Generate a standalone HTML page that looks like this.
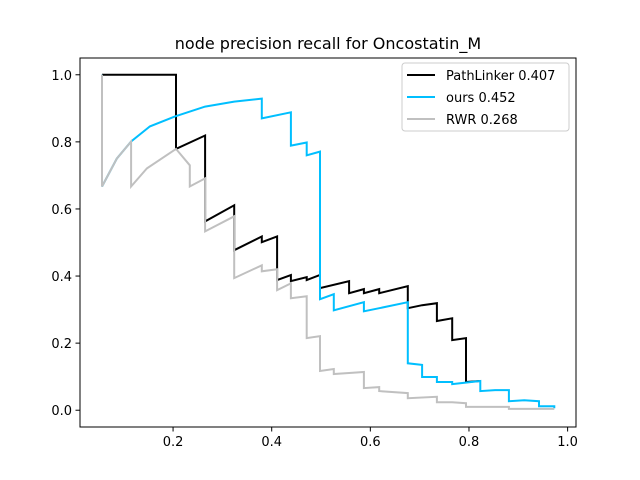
<!DOCTYPE html>
<html><head><meta charset="utf-8"><style>
body{margin:0;background:#fff}
svg{display:block;font-family:"DejaVu Sans","Liberation Sans",sans-serif}
</style></head><body>
<svg id="chart" width="640" height="480">
<rect width="640" height="480" fill="#fff"/>
<text x="328" y="49" text-anchor="middle" font-size="16">node precision recall for Oncostatin_M</text>
<g id="plot"></g>
<rect x="80" y="58" width="496" height="369" fill="none" stroke="#000" stroke-width="1"/>
<g id="ticks"></g>
<g>
<rect x="402" y="63" width="167" height="68" rx="3" fill="#fff" fill-opacity="0.8" stroke="#ccc"/>
<line x1="407" y1="75" x2="435" y2="75" stroke="#000" stroke-width="2"/>
<text x="446" y="80" font-size="13">PathLinker 0.407</text>
<line x1="407" y1="97" x2="435" y2="97" stroke="#00bfff" stroke-width="2"/>
<text x="446" y="102" font-size="13">ours 0.452</text>
<line x1="407" y1="119" x2="435" y2="119" stroke="#c0c0c0" stroke-width="2"/>
<text x="446" y="124" font-size="13">RWR 0.268</text>
</g>
</svg>
<script>
const xTicks=[0.2,0.4,0.6,0.8,1.0];
const yTicks=[0.0,0.2,0.4,0.6,0.8,1.0];
const pathlinkerRecall=[0.056,0.206,0.206,0.265,0.265,0.324,0.324,0.380,0.380,0.411,0.411,0.439,0.439,0.471,0.471,0.498,0.498,0.557,0.557,0.587,0.587,0.618,0.618,0.676,0.676,0.705,0.735,0.735,0.766,0.766,0.794,0.794,0.823];
const pathlinkerPrecision=[1.0,1.0,0.779,0.819,0.563,0.611,0.477,0.518,0.501,0.518,0.388,0.403,0.385,0.397,0.388,0.403,0.364,0.385,0.349,0.361,0.349,0.361,0.349,0.370,0.304,0.313,0.319,0.266,0.274,0.209,0.215,0.084,0.087];
const oursRecall=[0.056,0.056,0.086,0.115,0.153,0.204,0.265,0.324,0.380,0.380,0.439,0.439,0.471,0.471,0.498,0.498,0.526,0.526,0.587,0.587,0.618,0.676,0.676,0.705,0.705,0.735,0.735,0.766,0.766,0.823,0.823,0.853,0.881,0.881,0.912,0.942,0.942,0.973,0.973];
const oursPrecision=[1.0,0.667,0.750,0.801,0.846,0.876,0.905,0.920,0.929,0.870,0.888,0.789,0.798,0.760,0.771,0.331,0.346,0.298,0.322,0.295,0.304,0.322,0.140,0.135,0.099,0.099,0.084,0.084,0.078,0.087,0.057,0.060,0.060,0.027,0.030,0.027,0.012,0.012,0.006];
const rwrRecall=[0.056,0.056,0.086,0.115,0.115,0.147,0.206,0.234,0.234,0.265,0.265,0.324,0.324,0.380,0.380,0.411,0.411,0.439,0.439,0.471,0.471,0.498,0.498,0.526,0.526,0.557,0.587,0.587,0.618,0.618,0.676,0.676,0.735,0.735,0.766,0.794,0.794,0.881,0.881,0.973];
const rwrPrecision=[1.0,0.667,0.750,0.801,0.667,0.721,0.779,0.730,0.667,0.691,0.533,0.578,0.394,0.432,0.414,0.420,0.358,0.378,0.334,0.340,0.215,0.221,0.117,0.123,0.108,0.111,0.114,0.066,0.069,0.057,0.051,0.036,0.040,0.024,0.024,0.021,0.010,0.010,0.004,0.004];
const X0=80,W=496,Y0=58,H=369,xmin=0.0113,xmax=1.017,ymin=-0.05,ymax=1.05;
const xs=v=>X0+(v-xmin)/(xmax-xmin)*W;
const ys=v=>Y0+H-(v-ymin)/(ymax-ymin)*H;
const NS="http://www.w3.org/2000/svg";
const plot=document.getElementById('plot'),ticks=document.getElementById('ticks');
function line(rx,py,color,name){
  const p=document.createElementNS(NS,'polyline');
  p.setAttribute('points',rx.map((r,i)=>xs(r).toFixed(1)+','+ys(py[i]).toFixed(1)).join(' '));
  p.setAttribute('fill','none');p.setAttribute('stroke',color);p.setAttribute('stroke-width','2');
  p.setAttribute('stroke-linejoin','miter');
  
  
  plot.appendChild(p);
}
line(pathlinkerRecall,pathlinkerPrecision,'#000','pathlinker-line');
line(oursRecall,oursPrecision,'#00bfff','ours-line');
line(rwrRecall,rwrPrecision,'#c0c0c0','rwr-line');
xTicks.forEach(t=>{
  const x=xs(t);
  const l=document.createElementNS(NS,'line');
  l.setAttribute('x1',x);l.setAttribute('x2',x);l.setAttribute('y1',427);l.setAttribute('y2',431.5);l.setAttribute('stroke','#000');
  
  
  ticks.appendChild(l);
  const tx=document.createElementNS(NS,'text');
  tx.setAttribute('x',x);tx.setAttribute('y',446);tx.setAttribute('text-anchor','middle');tx.setAttribute('font-size','13');
  tx.textContent=t.toFixed(1);
  
  
  ticks.appendChild(tx);
});
yTicks.forEach(t=>{
  const y=ys(t);
  const l=document.createElementNS(NS,'line');
  l.setAttribute('x1',75.5);l.setAttribute('x2',80);l.setAttribute('y1',y);l.setAttribute('y2',y);l.setAttribute('stroke','#000');
  
  
  ticks.appendChild(l);
  const tx=document.createElementNS(NS,'text');
  tx.setAttribute('x',72);tx.setAttribute('y',y+5);tx.setAttribute('text-anchor','end');tx.setAttribute('font-size','13');
  tx.textContent=t.toFixed(1);
  
  
  ticks.appendChild(tx);
});
</script>
</body></html>
